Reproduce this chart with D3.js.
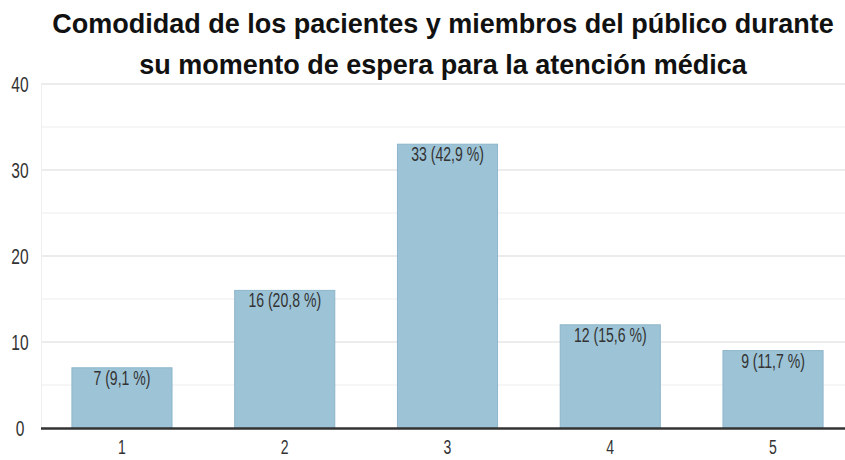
<!DOCTYPE html>
<html>
<head>
<meta charset="utf-8">
<script src="https://cdn.jsdelivr.net/npm/d3@7"></script>
<style>
  body { margin: 0; background: #fff; }
</style>
</head>
<body>
<div class="chart"></div>
<script>
const WIDTH = 845;
const HEIGHT = 460;
const NARROW = 0.74; // horizontal squeeze for the condensed labels

const categories = ['1', '2', '3', '4', '5'];
const counts = [7, 16, 33, 12, 9];
const percents = ['9,1 %', '20,8 %', '42,9 %', '15,6 %', '11,7 %'];
const yTicks = [0, 10, 20, 30, 40];
const titleLines = [
  'Comodidad de los pacientes y miembros del público durante',
  'su momento de espera para la atención médica',
];

const svg = d3.select('.chart')
  .append('svg')
  .attr('width', WIDTH)
  .attr('height', HEIGHT)
  .style('display', 'block')
  .style('font-family', 'Liberation Sans, Arial, sans-serif');

const x = d3.scaleBand().domain(categories).range([41, 854]).paddingInner(0.385).paddingOuter(0.19);
const y = d3.scaleLinear().domain([0, 40]).range([428, 84]);

// squeezed text helper (no narrow font installed)
function narrowText(sel, fx, fy) {
  return sel.attr('transform', (d, i) => `translate(${fx(d, i)},${fy(d, i)}) scale(${NARROW},1.05)`)
    .attr('text-anchor', 'middle');
}

// minor grid lines every 5
svg.append('g')
  .selectAll('line')
  .data(d3.range(5, 40, 10))
  .enter()
  .append('line')
  .attr('x1', 41)
  .attr('x2', WIDTH)
  .attr('y1', (d) => y(d))
  .attr('y2', (d) => y(d))
  .style('stroke', '#f3f3f3')
  .style('stroke-width', 1.5);

// major grid lines
svg.append('g')
  .selectAll('line')
  .data(yTicks.slice(1))
  .enter()
  .append('line')
  .attr('x1', 41)
  .attr('x2', WIDTH)
  .attr('y1', (d) => y(d))
  .attr('y2', (d) => y(d))
  .style('stroke', '#e6e6e6')
  .style('stroke-width', 1.5);

// left faint border
svg.append('line')
  .attr('x1', 41.5).attr('x2', 41.5)
  .attr('y1', y(40)).attr('y2', y(0))
  .style('stroke', '#efefef');

// y tick labels
svg.append('g')
  .selectAll('text')
  .data(yTicks)
  .enter()
  .append('text')
  .call(narrowText, () => 20, (d) => y(d) + 8)
  .style('font-size', '21px')
  .style('fill', '#333')
  .text((d) => d);

// bars
svg.append('g')
  .selectAll('rect')
  .data(counts)
  .enter()
  .append('rect')
  .attr('x', (d, i) => x(categories[i]))
  .attr('y', (d) => y(d))
  .attr('width', x.bandwidth())
  .attr('height', (d) => y(0) - y(d))
  .style('fill', '#9dc3d6')
  .style('stroke', '#8db5ca')
  .style('stroke-width', 1);

// bar labels
svg.append('g')
  .selectAll('text')
  .data(counts)
  .enter()
  .append('text')
  .call(narrowText, (d, i) => x(categories[i]) + x.bandwidth() / 2, (d) => y(d) + 17)
  .style('font-size', '19px')
  .style('fill', '#333')
  .text((d, i) => `${d} (${percents[i]})`);

// x axis line
svg.append('line')
  .attr('x1', 41)
  .attr('x2', WIDTH)
  .attr('y1', y(0) + 0.5)
  .attr('y2', y(0) + 0.5)
  .style('stroke', '#333')
  .style('stroke-width', 2.5);

// x tick labels
svg.append('g')
  .selectAll('text')
  .data(categories)
  .enter()
  .append('text')
  .call(narrowText, (d) => x(d) + x.bandwidth() / 2, () => 454)
  .style('font-size', '19px')
  .style('fill', '#333')
  .text((d) => d);

// title
svg.append('g')
  .selectAll('text')
  .data(titleLines)
  .enter()
  .append('text')
  .attr('x', 443)
  .attr('y', (d, i) => 33 + i * 41)
  .attr('text-anchor', 'middle')
  .style('font-weight', 'bold')
  .style('font-size', '27px')
  .style('fill', '#111')
  .text((d) => d);
</script>
</body>
</html>
